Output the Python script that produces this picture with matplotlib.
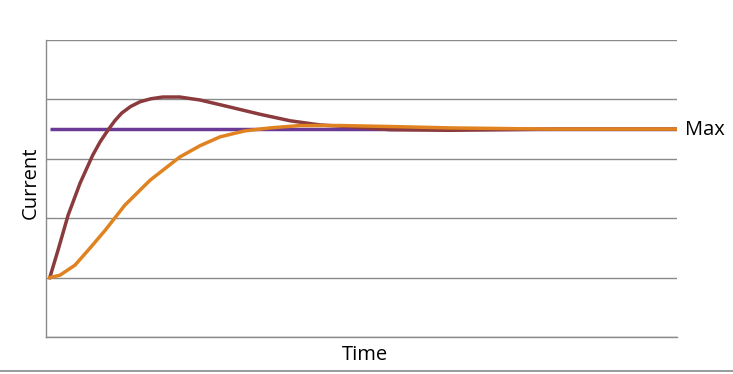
import matplotlib.pyplot as plt
from matplotlib.lines import Line2D

# Courbes (temps en %, courant en unités de grille)
t_brown = [0.6, 1.9, 3.5, 5.4, 7.4, 8.6, 9.8, 10.9, 12.0, 13.4, 14.9, 16.6, 18.5, 21.2,
           24.4, 29.2, 33.9, 38.7, 43.4, 48.2, 54.5, 64.0, 79.9, 100]
i_brown = [1.0, 1.46, 2.05, 2.59, 3.06, 3.29, 3.48, 3.64, 3.77, 3.88, 3.96, 4.01, 4.04,
           4.04, 3.99, 3.87, 3.75, 3.64, 3.57, 3.54, 3.49, 3.48, 3.5, 3.5]

t_orange = [0.6, 2.2, 4.6, 7.0, 9.4, 12.5, 16.5, 21.2, 24.4, 27.6, 31.5, 35.5, 40.3,
            46.6, 56.1, 64.0, 79.9, 100]
i_orange = [1.0, 1.04, 1.21, 1.5, 1.8, 2.22, 2.64, 3.03, 3.22, 3.37, 3.47, 3.52, 3.56,
            3.56, 3.54, 3.52, 3.5, 3.5]

t_max = [0.6, 100]
i_max = [3.5, 3.5]

plt.rcParams['font.family'] = ['Open Sans', 'DejaVu Sans']

fig = plt.figure(figsize=(7.33, 3.74), dpi=100)
ax = fig.add_axes([46 / 733, 37 / 374, 631 / 733, 297 / 374])

ax.plot(t_max, i_max, color='#6a3a94', lw=2.5, solid_capstyle='butt')
ax.plot(t_brown, i_brown, color='#8b3b3d', lw=2.5)
ax.plot(t_orange, i_orange, color='#e0821f', lw=2.5)

ax.set_xlim(0, 100)
ax.set_ylim(0, 5)
ax.set_yticks([0, 1, 2, 3, 4, 5])
ax.set_xticks([])
ax.tick_params(left=False, labelleft=False)
ax.grid(axis='y', color='#8a8a8a', lw=1)
ax.set_axisbelow(True)
for s in ['top', 'right']:
    ax.spines[s].set_visible(False)
for s in ['left', 'bottom']:
    ax.spines[s].set_color('#8a8a8a')
    ax.spines[s].set_linewidth(1)

fig.text(31 / 733, 1 - 183 / 374, 'Current', rotation=90, ha='center', va='center', fontsize=14.5)
fig.text(365 / 733, 1 - 355 / 374, 'Time', ha='center', va='center', fontsize=14.5)
fig.text(685 / 733, 1 - 130 / 374, 'Max', ha='left', va='center', fontsize=14.5)

fig.add_artist(Line2D([0, 1], [1 - 371 / 374] * 2, color='#8a8a8a', lw=1.2,
                      transform=fig.transFigure))

fig.savefig('out.png', dpi=100)
